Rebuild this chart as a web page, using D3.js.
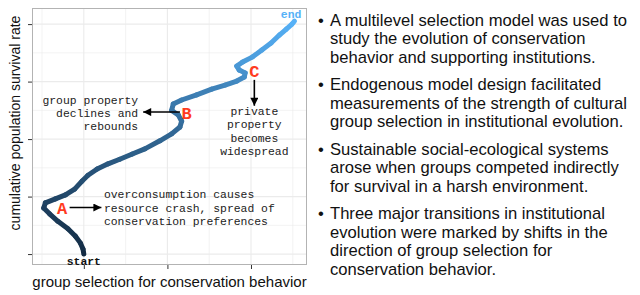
<!DOCTYPE html>
<meta charset="utf-8">
<style>
  body { margin: 0; background: #fff; }
  .grid line { stroke: #ebebeb; }
  .grid .minor { stroke-width: 0.6px; }
  .grid .major { stroke-width: 1.1px; }
  .axis path { display: none; }
  .axis line { stroke: #333; }
  .note { font-family: "Liberation Mono", "Courier New", monospace; font-size: 11.4px; fill: #222; }
  .tag { font-family: "Liberation Mono", "Courier New", monospace; font-size: 17px; font-weight: bold; fill: #ff3b1f; }
  .title { font-family: "Liberation Sans", Arial, sans-serif; font-size: 15px; fill: #111; }
  .bullets { font-family: "Liberation Sans", Arial, sans-serif; font-size: 16.6px; fill: #111; }
</style>
<body>
<svg id="chart" width="640" height="295"></svg>
<script src="https://d3js.org/d3.v7.min.js"></script>
<script>
// trajectory of the simulation (x = group selection, y = cumulative survival)
var pathX = [0, -0.01, -0.04, -0.10, -0.19, -0.31, -0.41, -0.48, -0.46, -0.34, -0.22, -0.11, -0.02, 0.05,
  0.16, 0.29, 0.43, 0.58, 0.73, 0.91, 1.05, 1.15, 1.17, 1.13, 1.05, 1.07, 1.17, 1.35, 1.53, 1.69,
  1.83, 1.92, 1.93, 1.86, 1.83, 1.90, 2.02, 2.13, 2.24, 2.34, 2.42, 2.49, 2.52];
var pathY = [0.0, 0.09, 0.19, 0.31, 0.44, 0.57, 0.70, 0.80, 0.89, 0.96, 1.03, 1.13, 1.27, 1.37,
  1.48, 1.57, 1.65, 1.74, 1.83, 1.97, 2.09, 2.21, 2.31, 2.42, 2.50, 2.61, 2.68, 2.77, 2.87, 2.94,
  3.01, 3.08, 3.15, 3.20, 3.27, 3.34, 3.43, 3.55, 3.67, 3.81, 3.91, 4.00, 4.05];

var xTicks = [0, 1, 2];
var yTicks = [0, 1, 2, 3, 4];

// annotations
var tags = [
  {label: "A", x: -0.26, y: 0.80},
  {label: "B", x: 1.23, y: 2.45},
  {label: "C", x: 2.04, y: 3.18}
];
var arrows = [
  {x1: -0.17, y1: 0.81, x2: 0.21, y2: 0.81},
  {x1: 1.15, y1: 2.47, x2: 0.71, y2: 2.47},
  {x1: 2.04, y1: 3.03, x2: 2.04, y2: 2.58}
];
var notes = [
  {lines: ["overconsumption causes", "resource crash, spread of", "conservation preferences"], x: 0.24, y: 1.04, anchor: "start"},
  {lines: ["group property", "declines and", "rebounds"], x: 0.65, y: 2.69, anchor: "end"},
  {lines: ["private", "property", "becomes", "widespread"], x: 2.04, y: 2.49, anchor: "middle"}
];

var bullets = [
  ["A multilevel selection model was used to", "study the evolution of conservation", "behavior and supporting institutions."],
  ["Endogenous model design facilitated", "measurements of the strength of cultural", "group selection in institutional evolution."],
  ["Sustainable social-ecological systems", "arose when groups competed indirectly", "for survival in a harsh environment."],
  ["Three major transitions in institutional", "evolution were marked by shifts in the", "direction of group selection for", "conservation behavior."]
];

var svg = d3.select("#chart");
var panel = {left: 32, right: 307, top: 8, bottom: 265};

var x = d3.scaleLinear().domain([-0.62, 2.67]).range([panel.left, panel.right]);
var y = d3.scaleLinear().domain([-0.19, 4.28]).range([panel.bottom, panel.top]);

var defs = svg.append("defs");
defs.append("marker")
    .attr("id", "head")
    .attr("viewBox", "0 0 10 10")
    .attr("refX", 10).attr("refY", 5)
    .attr("markerWidth", 10).attr("markerHeight", 8)
    .attr("markerUnits", "userSpaceOnUse")
    .attr("orient", "auto")
  .append("path")
    .attr("d", "M0,0L10,5L0,10Z")
    .attr("fill", "#000");

// panel + grid
svg.append("rect")
    .attr("x", panel.left).attr("y", panel.top)
    .attr("width", panel.right - panel.left).attr("height", panel.bottom - panel.top)
    .attr("fill", "#fff");

var grid = svg.append("g").attr("class", "grid");
var xMinor = d3.range(-0.5, 2.6, 0.5).filter(function(v) { return xTicks.indexOf(v) < 0; });
var yMinor = d3.range(-0.5, 4.6, 0.5).filter(function(v) { return yTicks.indexOf(v) < 0 && v > -0.19 && v < 4.28; });

grid.selectAll(".vx").data(xMinor).enter().append("line").attr("class", "minor")
    .attr("x1", x).attr("x2", x).attr("y1", panel.top).attr("y2", panel.bottom);
grid.selectAll(".hy").data(yMinor).enter().append("line").attr("class", "minor")
    .attr("y1", y).attr("y2", y).attr("x1", panel.left).attr("x2", panel.right);
grid.selectAll(".vX").data(xTicks).enter().append("line").attr("class", "major")
    .attr("x1", x).attr("x2", x).attr("y1", panel.top).attr("y2", panel.bottom);
grid.selectAll(".hY").data(yTicks).enter().append("line").attr("class", "major")
    .attr("y1", y).attr("y2", y).attr("x1", panel.left).attr("x2", panel.right);

svg.append("g").attr("class", "axis")
    .attr("transform", "translate(0," + panel.bottom + ")")
    .call(d3.axisBottom(x).tickValues(xTicks).tickFormat("").tickSize(4).tickSizeOuter(0));
svg.append("g").attr("class", "axis")
    .attr("transform", "translate(" + panel.left + ",0)")
    .call(d3.axisLeft(y).tickValues(yTicks).tickFormat("").tickSize(4).tickSizeOuter(0));

svg.append("rect")
    .attr("x", panel.left + 0.5).attr("y", panel.top + 0.5)
    .attr("width", panel.right - panel.left - 1).attr("height", panel.bottom - panel.top - 1)
    .attr("fill", "none").attr("stroke", "#b3b3b3");

// gradient trajectory, drawn segment by segment
var color = d3.scaleLinear().domain([0, pathX.length - 2])
    .range(["#132B43", "#56B1F7"]).interpolate(d3.interpolateLab);
var segs = d3.range(pathX.length - 1);
svg.append("g").selectAll("line").data(segs).enter().append("line")
    .attr("x1", function(i) { return x(pathX[i]); })
    .attr("y1", function(i) { return y(pathY[i]); })
    .attr("x2", function(i) { return x(pathX[i + 1]); })
    .attr("y2", function(i) { return y(pathY[i + 1]); })
    .attr("stroke", function(i) { return color(i); })
    .attr("stroke-width", 5)
    .attr("stroke-linecap", "round");

// arrows
svg.append("g").selectAll("line").data(arrows).enter().append("line")
    .attr("x1", function(d) { return x(d.x1); })
    .attr("y1", function(d) { return y(d.y1); })
    .attr("x2", function(d) { return x(d.x2); })
    .attr("y2", function(d) { return y(d.y2); })
    .attr("stroke", "#000").attr("stroke-width", 1.6)
    .attr("marker-end", "url(#head)");

svg.append("g").selectAll("text").data(tags).enter().append("text")
    .attr("class", "tag")
    .attr("x", function(d) { return x(d.x); })
    .attr("y", function(d) { return y(d.y); })
    .attr("dy", "0.36em")
    .attr("text-anchor", "middle")
    .text(function(d) { return d.label; });

var nt = svg.append("g").selectAll("text").data(notes).enter().append("text")
    .attr("class", "note")
    .attr("text-anchor", function(d) { return d.anchor; })
    .attr("transform", function(d) { return "translate(" + x(d.x) + "," + y(d.y) + ")"; });
nt.selectAll("tspan").data(function(d) { return d.lines; }).enter().append("tspan")
    .attr("x", 0)
    .attr("y", function(d, i) { return i * 13.3; })
    .attr("dy", "0.36em")
    .text(function(d) { return d; });

svg.append("text").attr("class", "note")
    .attr("x", x(0)).attr("y", y(-0.11)).attr("dy", "0.36em")
    .attr("text-anchor", "middle").attr("font-weight", "bold").attr("font-size", "11px")
    .style("fill", "#111")
    .text("start");
svg.append("text").attr("class", "note")
    .attr("x", x(2.48)).attr("y", y(4.17)).attr("dy", "0.36em")
    .attr("text-anchor", "middle").attr("font-weight", "bold").attr("font-size", "11px")
    .style("fill", "#56B1F7")
    .text("end");

// axis titles
svg.append("text").attr("class", "title")
    .attr("x", (panel.left + panel.right) / 2).attr("y", 287)
    .attr("text-anchor", "middle")
    .text("group selection for conservation behavior");
svg.append("text").attr("class", "title")
    .attr("transform", "translate(20,123) rotate(-90)")
    .attr("text-anchor", "middle")
    .attr("font-size", "14px")
    .style("font-size", "14px")
    .text("cumulative population survival rate");

// bullet list on the right
var by = 20;
var bl = svg.append("g").attr("class", "bullets");
bullets.forEach(function(par) {
  bl.append("text").attr("x", 318).attr("y", by).attr("dy", "0.36em").text("\u2022");
  par.forEach(function(line) {
    bl.append("text").attr("x", 330).attr("y", by).attr("dy", "0.36em").text(line);
    by += 18.5;
  });
  by += 9;
});
</script>
</body>
</html>
